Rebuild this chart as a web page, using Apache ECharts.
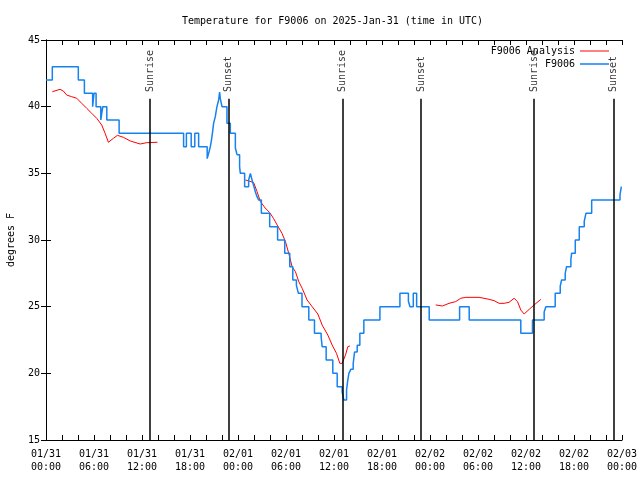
<!DOCTYPE html>
<html><head><meta charset="utf-8">
<script src="https://cdn.jsdelivr.net/npm/echarts@6/dist/echarts.min.js"></script>
<style>html,body{margin:0;padding:0;background:#fff}#c{width:640px;height:480px}</style>
</head><body><div id="c"></div>
<script>
// x values are hours since 2025-01-31 00:00 UTC
const xTickLabels = ['01/31\n00:00','01/31\n06:00','01/31\n12:00','01/31\n18:00','02/01\n00:00','02/01\n06:00','02/01\n12:00','02/01\n18:00','02/02\n00:00','02/02\n06:00','02/02\n12:00','02/02\n18:00','02/03\n00:00'];

const analysisHours = [0.79,1.75,2.17,2.59,3.2,3.84,4.47,5.1,5.72,6.35,6.97,7.39,7.8,8.43,8.93,9.68,10.52,11.77,12.6,13.94,
  19,
  24.92,25.5,25.96,26.38,26.8,27.4,27.97,28.46,28.89,29.5,29.93,30.34,30.76,31.18,31.6,32.02,32.64,33.27,33.98,34.52,35.23,35.77,36.31,36.73,37.02,37.44,37.73,37.98,
  43,
  48.71,49.55,50.38,51.21,51.84,52.47,54.13,55.39,56.01,56.64,57.27,57.89,58.52,58.94,59.35,59.77,60.4,61.02,61.86];
const analysisTemps = [41.12,41.3,41.17,40.87,40.75,40.63,40.25,39.87,39.5,39.12,38.62,38.0,37.33,37.63,37.85,37.7,37.43,37.2,37.3,37.33,
  null,
  34.5,34.4,34.3,33.63,32.88,32.4,32.05,31.6,31.13,30.5,29.88,29.0,28.0,27.62,26.87,26.38,25.5,25.0,24.45,23.62,22.87,22.12,21.5,20.75,20.75,21.38,22.0,22.05,
  null,
  25.13,25.05,25.25,25.38,25.63,25.7,25.7,25.55,25.45,25.25,25.25,25.33,25.63,25.38,24.75,24.45,24.8,25.13,25.55];

const stationHours = [0,0.79,4.04,4.8,5.83,6.0,6.26,6.85,7.1,7.6,9.14,17.2,17.55,18.15,18.6,19.08,20.15,20.33,20.54,20.66,20.8,20.95,21.16,21.37,21.58,21.7,21.79,22.0,22.62,23.04,23.67,23.88,24.2,24.29,24.83,25.33,25.55,25.8,26.0,26.17,26.38,26.58,26.92,27.96,28.95,29.84,30.47,30.85,31.3,31.55,32.0,32.85,33.56,34.39,34.52,35.02,35.85,36.4,37.02,37.23,37.57,37.7,37.86,38.1,38.4,38.57,38.9,39.23,39.73,41.74,44.24,45.3,45.5,45.91,46.33,47.9,51.7,52.9,59.35,60.81,62.27,62.48,63.65,64.28,64.45,64.9,65.07,65.61,65.7,66.16,66.66,67.28,67.49,68.21,71.75,71.92,72];
const stationTemps = [42,43,42,41,40,41,40,39,40,39,38,37,38,37,38,37,36.1,36.5,37,37.4,38,38.75,39.25,40,40.5,41.1,40.6,40,38.75,38,36.9,36.4,35.5,35,34,34.5,35,34.4,34,33.6,33.25,33,32,31,30,29,28,27,26.6,26,25,24,23,22.75,22,21,20,19,18.6,18,18.75,19.4,20,20.3,20.75,21.6,22.1,23,24,25,26,25.4,25,26,25,24,25,24,23,24,24.6,25,26,26.55,27,27.5,28,28.55,29,30,31,31.4,32,33,33.4,34,34];

const sunHours = [13.03, 22.83, 37.1, 46.87, 61.02, 70.96];
const sunLabels = ['Sunrise','Sunset','Sunrise','Sunset','Sunrise','Sunset'];

const FONT = 'DejaVu Sans Mono';
const txt = {fontFamily: FONT, fontSize: 10, color: '#000'};
const RED = '#ff0000', BLUE = '#1582f0';

const analysisData = analysisHours.map((h, i) => [h, analysisTemps[i] === null ? '-' : analysisTemps[i]]);
const stationData = stationHours.map((h, i) => [h, stationTemps[i]]);
const sunLineData = sunHours.map(h => [{coord: [h, 15]}, {coord: [h, 40.6]}]);
const sunTextData = sunHours.map((h, i) => [h, 41.1, sunLabels[i]]);

const chart = echarts.init(document.getElementById('c'), null, {renderer: 'canvas'});
const baseX = {type: 'value', min: 0, max: 72, interval: 6,
  axisLine: {lineStyle: {color: '#000', width: 1}},
  axisTick: {inside: false, length: -5, lineStyle: {color: '#000'}},
  minorTick: {show: true, splitNumber: 3, length: -5, lineStyle: {color: '#000'}},
  splitLine: {show: false}};
const baseY = {type: 'value', min: 15, max: 45, interval: 5,
  axisLine: {show: true, lineStyle: {color: '#000', width: 1}},
  axisTick: {show: true, inside: false, length: -5, lineStyle: {color: '#000'}},
  splitLine: {show: false}};

chart.setOption({
  animation: false,
  backgroundColor: '#fff',
  title: {text: 'Temperature for F9006 on 2025-Jan-31 (time in UTC)', left: 177, top: 11,
    textStyle: {fontFamily: FONT, fontSize: 10, fontWeight: 'normal', color: '#000'}},
  grid: {left: 46, right: 18, top: 40, bottom: 40, outerBoundsMode: 'none', containLabel: false},
  legend: [
    {data: ['F9006 Analysis'], right: 26, top: 41, align: 'right', icon: 'rect', itemWidth: 29, itemHeight: 1,
      selectedMode: false, textStyle: txt},
    {data: ['F9006'], right: 26, top: 54, align: 'right', icon: 'rect', itemWidth: 29, itemHeight: 1.5,
      selectedMode: false, textStyle: txt}
  ],
  xAxis: [
    Object.assign({}, baseX, {position: 'bottom',
      axisLabel: {formatter: v => xTickLabels[Math.round(v / 6)], fontFamily: FONT, fontSize: 10, color: '#000', lineHeight: 13, margin: 8}}),
    Object.assign({}, baseX, {position: 'top', axisLabel: {show: false}})
  ],
  yAxis: [
    Object.assign({}, baseY, {position: 'left',
      name: 'degrees F', nameLocation: 'middle', nameGap: 30, nameTextStyle: txt,
      axisLabel: {fontFamily: FONT, fontSize: 10, color: '#000', margin: 6}}),
    Object.assign({}, baseY, {position: 'right', axisLabel: {show: false}})
  ],
  series: [
    {name: 'F9006 Analysis', type: 'line', data: analysisData, symbol: 'none', connectNulls: false,
      lineStyle: {color: RED, width: 1}, itemStyle: {color: RED}, z: 2},
    {name: 'F9006', type: 'line', data: stationData, symbol: 'none', step: 'end',
      lineStyle: {color: BLUE, width: 1.5}, itemStyle: {color: BLUE}, z: 3},
    {name: 'sun', type: 'scatter', data: sunTextData, symbolSize: 0, silent: true, z: 5,
      label: {show: true, formatter: p => p.value[2], position: 'inside', rotate: 90,
        align: 'left', verticalAlign: 'middle', fontFamily: FONT, fontSize: 10, color: '#000'},
      markLine: {silent: true, symbol: ['none', 'none'], z: 6,
        lineStyle: {color: '#000', width: 1.5, type: 'solid'}, label: {show: false},
        data: sunLineData}}
  ]
});
</script></body></html>
